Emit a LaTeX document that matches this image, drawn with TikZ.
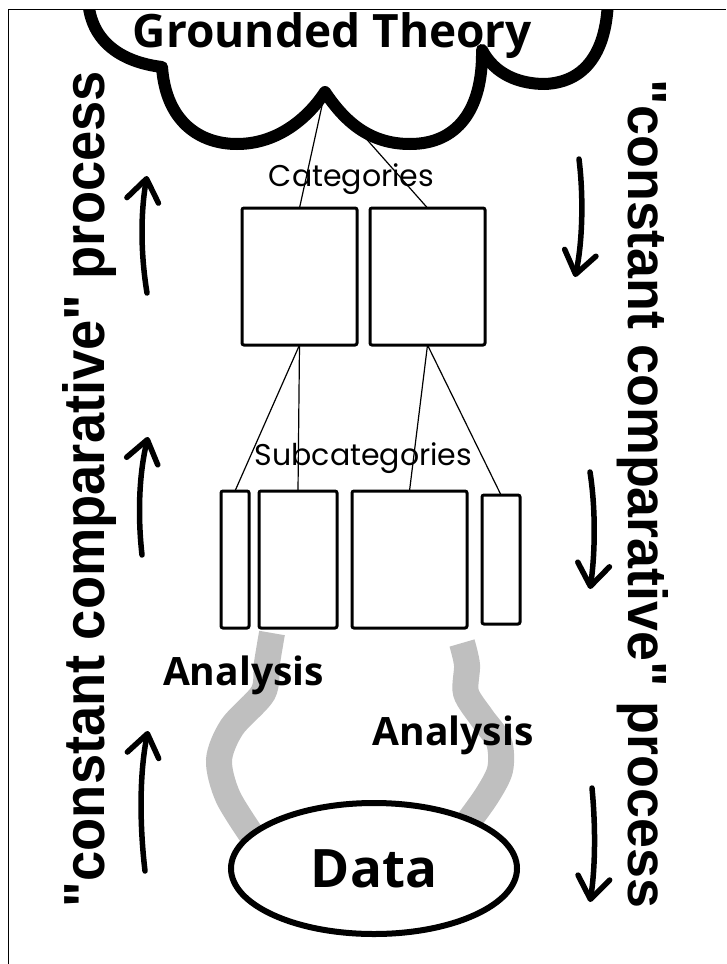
\documentclass[tikz,border=0pt]{standalone}
\usepackage{fontspec}
\usepackage{graphicx}
\usetikzlibrary{arrows.meta, positioning, shapes.geometric}
\newfontfamily\titlefont{Open Sans}
\newfontfamily\labelfont{Poppins}
\newfontfamily\sidefont{Liberation Sans}

\tikzset{
  catbox/.style={draw, line width=3pt, rounded corners=2pt, inner sep=0pt,
    outer sep=0pt, minimum width=115pt, minimum height=137pt},
  link/.style={line width=1.2pt},
  handarrow/.style={line width=5.5pt, line cap=round, line join=round,
    -{Straight Barb[length=22pt, width=32pt, round]}},
  analysispath/.style={line width=26pt, gray!50},
  txt/.style={inner sep=0pt, anchor=base},
  boldtxt/.style={txt, font=\titlefont\bfseries\fontsize{39}{44}\selectfont},
  thintxt/.style={txt, font=\labelfont\fontsize{30}{36}\selectfont},
}

\begin{document}
\begin{tikzpicture}[x=1pt, y=-1pt]
  \useasboundingbox (0,0) rectangle (726,964);
  % --- frame ---
  \draw[line width=1pt] (8,964) -- (8,9) -- (726,9);

  % --- cloud ---
  \begin{scope}
    \clip (8,9) rectangle (726,964);
    \draw[line width=12pt, line join=round]
      (88,-5) .. controls (88,40) and (120,62) .. (162,67)
      .. controls (166,122) and (200,144) .. (237,144)
      .. controls (280,144) and (310,115) .. (325,92)
      .. controls (345,122) and (370,144) .. (410,144)
      .. controls (457,144) and (483,110) .. (482,50)
      .. controls (495,75) and (520,84) .. (545,84)
      .. controls (590,82) and (608,45) .. (608,-5);
  \end{scope}
  \coordinate (cusp) at (325,92);
  \coordinate (cloudfoot) at (362,134);
  \node[txt, font=\titlefont\bfseries\fontsize{46}{50}\selectfont] (title)
    at (332.5,47) {Grounded Theory};

  % --- categories ---
  \node[catbox] (catL) at (299.5,276.5) {};
  \node[catbox, right=13pt of catL] (catR) {};
  \node[thintxt] (catlabel) at (351.5,186) {Categories};

  % --- subcategories ---
  \node[catbox, minimum width=28pt] (subA) at (235,559.5) {};
  \node[catbox, minimum width=78pt] (subB) at (298,559.5) {};
  \node[catbox] (subC) at (409.5,559.5) {};
  \node[catbox, minimum width=38pt, minimum height=129pt] (subD) at (501,559.5) {};
  \node[thintxt] (sublabel) at (363.5,465) {Subcategories};

  % --- links ---
  \draw[link] (cusp) -- (catL.north);
  \draw[link] (cloudfoot) -- (catR.north);
  \draw[link] (catL.south) -- (subA.north);
  \draw[link] (catL.south) -- (subB.north);
  \draw[link] (catR.south) -- (subC.north);
  \draw[link] (catR.south) -- (subD.north);

  % --- analysis streams ---
  \draw[analysispath] plot[smooth] coordinates
    {(272,633) (267,663) (263,693) (232,727) (219,760) (228,797) (255,840)};
  \draw[analysispath] plot[smooth] coordinates
    {(462,643) (467,665) (466,693) (482,718) (499,742) (500,770) (486,797) (462,830)};
  \node[boldtxt] (anaL) at (243.5,685) {Analysis};
  \node[boldtxt] (anaR) at (453,745) {Analysis};

  % --- data ---
  \node[draw, ellipse, line width=6pt, fill=white, inner sep=0pt,
        minimum width=286pt, minimum height=131pt,
        font=\titlefont\bfseries\fontsize{53}{60}\selectfont] (data)
    at (374,868.5) {Data};

  % --- process arrows ---
  \draw[handarrow] (147,293) .. controls (140,250) and (141,210) .. (147,176);
  \draw[handarrow] (142,555) .. controls (137,510) and (140,470) .. (148,437);
  \draw[handarrow] (145,871) .. controls (139,820) and (140,770) .. (148,731);
  \draw[handarrow] (579,159) .. controls (584,200) and (582,245) .. (575,277);
  \draw[handarrow] (590,472) .. controls (596,510) and (595,555) .. (590,589);
  \draw[handarrow] (592,788) .. controls (596,830) and (595,870) .. (590,902);

  % --- side labels ---
  \node[txt, rotate=90] (leftproc) at (104,489)
    {\resizebox{836pt}{42pt}{\sidefont\bfseries "constant comparative" process}};
  \node[txt, rotate=-90] (rightproc) at (628,494)
    {\resizebox{828pt}{40pt}{\sidefont\bfseries "constant comparative" process}};
\end{tikzpicture}
\end{document}
